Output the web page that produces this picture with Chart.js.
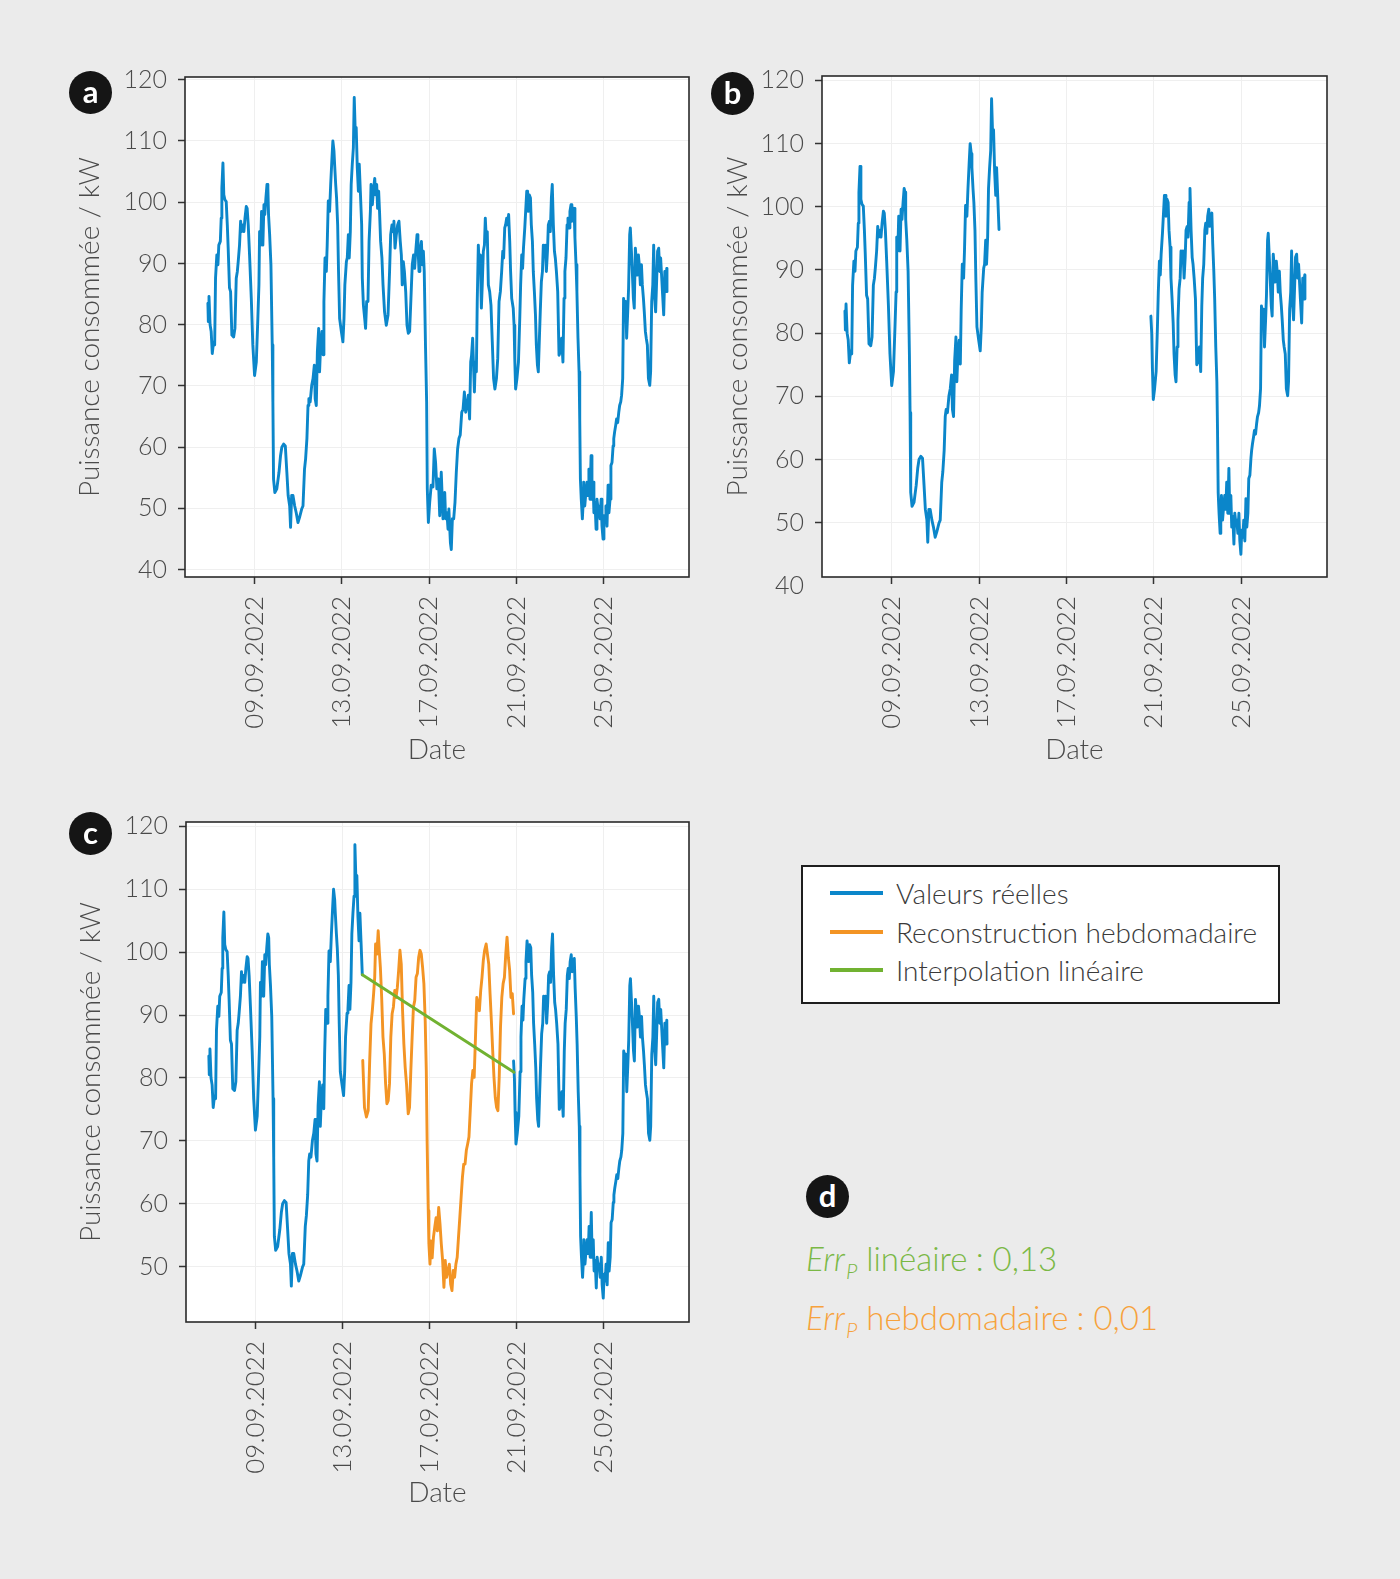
<!DOCTYPE html>
<html lang="fr">
<head>
<meta charset="utf-8">
<title>Puissance consommée</title>
<script src="https://cdn.jsdelivr.net/npm/chart.js@4.4.1/dist/chart.umd.min.js"></script>
<style>
  html, body { margin: 0; padding: 0; }
  body { width: 1400px; height: 1579px; background: #ebebeb; position: relative; overflow: hidden;
         font-family: Lato, "Open Sans", "DejaVu Sans", sans-serif; }
  canvas { position: absolute; }
  .badge { position: absolute; width: 43px; height: 43px; border-radius: 50%; background: #151515; color: #fff;
           font: 700 31px Lato, "Open Sans", sans-serif; display: flex; align-items: center; justify-content: center;
           line-height: 1; padding-bottom: 3px; box-sizing: border-box; }
  #legend { position: absolute; left: 801px; top: 865px; width: 475px; height: 135px; background: #fff;
            border: 2px solid #1e1e1e; }
  .item { position: absolute; left: 0; height: 36px; width: 100%; }
  .sw { position: absolute; left: 27px; top: 16px; width: 53px; height: 4px; }
  .lbl { position: absolute; left: 93px; top: 0; font: 300 28px Lato, "Open Sans", sans-serif; line-height: 36px;
         color: #3a3a3a; white-space: nowrap; }
  .err { position: absolute; left: 806px; font: 300 33px Lato, "Open Sans", sans-serif; line-height: 40px; white-space: nowrap; }
  .err i { font-style: italic; }
  .err sub { font-size: 0.64em; vertical-align: -0.38em; line-height: 0; font-style: italic; margin-left: 1px; }
</style>
</head>
<body>
<canvas id="chartA" width="700" height="780" style="left:0px;top:0px"></canvas>
<canvas id="chartB" width="700" height="780" style="left:637px;top:0px"></canvas>
<canvas id="chartC" width="700" height="780" style="left:0px;top:740px"></canvas>

<div class="badge" style="left:69px;top:71px">a</div>
<div class="badge" style="left:711px;top:72px">b</div>
<div class="badge" style="left:69px;top:812px">c</div>
<div class="badge" style="left:806px;top:1175px">d</div>

<div id="legend"></div>
<div id="errors"></div>

<script>
// ---------- DATA ----------
// x values are days of September 2022 (fractional), y values in kW
const tickDays   = [9, 13, 17, 21, 25];
const tickLabels = ['09.09.2022', '13.09.2022', '17.09.2022', '21.09.2022', '25.09.2022'];

const realDays = [
  6.86, 6.88, 6.91, 6.96, 7.01, 7.06, 7.12, 7.17, 7.21, 7.27,
  7.32, 7.36, 7.43, 7.47, 7.50, 7.55, 7.59, 7.64, 7.70, 7.75,
  7.79, 7.85, 7.90, 7.96, 8.04, 8.10, 8.16, 8.21, 8.25, 8.31,
  8.36, 8.40, 8.47, 8.51, 8.56, 8.62, 8.66, 8.71, 8.77, 8.85,
  8.92, 9.00, 9.08, 9.15, 9.20, 9.23, 9.28, 9.32, 9.38, 9.43,
  9.47, 9.52, 9.57, 9.61, 9.64, 9.69, 9.75, 9.81, 9.84, 9.87,
  9.93, 10.02, 10.12, 10.19, 10.25, 10.33, 10.41, 10.48, 10.54, 10.61,
  10.65, 10.70, 10.76, 10.84, 10.91, 10.99, 11.06, 11.16, 11.22, 11.29,
  11.34, 11.40, 11.45, 11.49, 11.55, 11.62, 11.68, 11.74, 11.78, 11.83,
  11.88, 11.94, 11.98, 12.03, 12.09, 12.14, 12.18, 12.23, 12.29, 12.33,
  12.38, 12.44, 12.49, 12.55, 12.59, 12.64, 12.67, 12.72, 12.76, 12.81,
  12.85, 12.90, 12.98, 13.05, 13.10, 13.14, 13.21, 13.25, 13.30, 13.34,
  13.39, 13.43, 13.48, 13.53, 13.57, 13.62, 13.66, 13.71, 13.76, 13.80,
  13.85, 13.91, 13.94, 13.99, 14.05, 14.09, 14.14, 14.20, 14.25, 14.31,
  14.34, 14.40, 14.46, 14.51, 14.55, 14.60, 14.64, 14.69, 14.73, 14.78,
  14.84, 14.89, 14.96, 15.04, 15.12, 15.19, 15.24, 15.30, 15.35, 15.39,
  15.44, 15.50, 15.56, 15.62, 15.68, 15.73, 15.77, 15.82, 15.87, 15.93,
  15.99, 16.05, 16.11, 16.17, 16.23, 16.29, 16.34, 16.39, 16.45, 16.49,
  16.54, 16.58, 16.65, 16.69, 16.74, 16.78, 16.84, 16.89, 16.92, 16.97,
  17.03, 17.10, 17.18, 17.24, 17.30, 17.36, 17.43, 17.49, 17.56, 17.64,
  17.72, 17.76, 17.82, 17.87, 17.91, 17.98, 18.02, 18.07, 18.13, 18.19,
  18.25, 18.31, 18.37, 18.43, 18.50, 18.56, 18.62, 18.68, 18.74, 18.80,
  18.86, 18.91, 18.95, 19.00, 19.05, 19.08, 19.12, 19.17, 19.21, 19.26,
  19.31, 19.35, 19.40, 19.44, 19.49, 19.54, 19.58, 19.63, 19.67, 19.72,
  19.78, 19.84, 19.90, 19.96, 20.02, 20.09, 20.15, 20.21, 20.27, 20.33,
  20.38, 20.42, 20.47, 20.51, 20.56, 20.61, 20.65, 20.70, 20.74, 20.79,
  20.86, 20.90, 20.93, 20.97, 21.03, 21.10, 21.16, 21.20, 21.25, 21.29,
  21.33, 21.39, 21.43, 21.48, 21.52, 21.55, 21.60, 21.65, 21.69, 21.74,
  21.78, 21.83, 21.88, 21.92, 21.97, 22.01, 22.06, 22.10, 22.15, 22.20,
  22.24, 22.29, 22.33, 22.38, 22.43, 22.47, 22.52, 22.56, 22.61, 22.65,
  22.70, 22.75, 22.79, 22.84, 22.90, 22.96, 23.02, 23.08, 23.14, 23.19,
  23.23, 23.28, 23.33, 23.37, 23.42, 23.46, 23.51, 23.55, 23.60, 23.65,
  23.69, 23.74, 23.78, 23.83, 23.88, 23.91, 23.94, 23.98, 24.03, 24.06,
  24.09, 24.14, 24.18, 24.24, 24.29, 24.33, 24.38, 24.43, 24.47, 24.52,
  24.56, 24.61, 24.66, 24.70, 24.75, 24.79, 24.84, 24.89, 24.93, 24.98,
  25.02, 25.07, 25.11, 25.16, 25.21, 25.25, 25.30, 25.34, 25.39, 25.44,
  25.47, 25.51, 25.56, 25.60, 25.65, 25.70, 25.74, 25.79, 25.83, 25.88,
  25.92, 25.97, 26.02, 26.06, 26.11, 26.15, 26.20, 26.23, 26.28, 26.32,
  26.37, 26.41, 26.46, 26.51, 26.55, 26.60, 26.64, 26.69, 26.74, 26.78,
  26.83, 26.87, 26.92, 26.96, 27.01, 27.06, 27.12, 27.16, 27.21, 27.26,
  27.30, 27.35, 27.39, 27.44, 27.48, 27.53, 27.58, 27.62, 27.67, 27.71,
  27.76, 27.81, 27.85, 27.90, 27.91
];
const realKw = [
  83.5, 80.5, 84.6, 80.0, 78.9, 75.3, 77.2, 76.7, 87.6, 91.4,
  89.8, 93.0, 93.6, 97.4, 102.3, 106.4, 101.2, 100.4, 100.1, 96.3,
  92.5, 86.0, 85.4, 78.3, 78.0, 79.4, 87.6, 88.7, 90.3, 93.0,
  96.9, 95.2, 96.3, 95.2, 97.4, 99.3, 99.0, 96.3, 91.4, 84.3,
  76.7, 71.7, 73.9, 81.0, 86.5, 95.2, 93.0, 98.5, 93.0, 99.6,
  98.0, 100.7, 102.9, 102.3, 98.0, 94.8, 89.8, 76.7, 67.4, 54.8,
  52.6, 53.2, 55.9, 58.6, 60.0, 60.5, 60.2, 55.9, 52.1, 50.4,
  46.9, 52.1, 52.1, 50.4, 49.3, 47.7, 48.5, 49.9, 50.4, 56.4,
  58.1, 61.4, 66.8, 67.9, 67.4, 70.1, 71.2, 73.4, 67.9, 66.8,
  75.6, 79.4, 72.3, 76.7, 78.9, 75.1, 83.8, 90.9, 88.7, 93.0,
  100.2, 98.5, 102.9, 107.3, 110.0, 108.4, 106.2, 102.9, 100.7, 96.3,
  88.7, 81.0, 78.9, 77.2, 81.0, 86.5, 90.3, 90.9, 94.7, 90.9,
  95.2, 102.9, 106.2, 108.9, 117.1, 111.1, 112.2, 105.6, 101.8, 106.2,
  101.8, 96.4, 87.6, 83.2, 81.0, 79.4, 83.8, 83.8, 93.6, 98.5,
  102.9, 99.6, 102.3, 103.9, 101.2, 102.9, 99.0, 101.8, 98.5, 93.6,
  90.9, 86.5, 82.1, 79.9, 81.6, 88.7, 94.7, 96.3, 95.2, 96.9,
  92.5, 94.7, 96.3, 96.9, 93.6, 91.4, 86.5, 90.3, 88.7, 85.4,
  79.9, 78.6, 78.9, 84.3, 89.8, 91.4, 89.2, 92.0, 94.7, 93.0,
  88.7, 92.0, 93.6, 89.8, 92.0, 88.7, 76.1, 67.4, 53.2, 47.7,
  51.0, 53.8, 53.5, 59.7, 57.5, 53.2, 54.8, 48.8, 55.9, 48.3,
  52.6, 48.3, 49.3, 46.6, 49.9, 44.4, 43.3, 48.3, 48.3, 51.0,
  55.9, 59.7, 61.4, 62.0, 65.7, 66.2, 69.0, 65.7, 66.8, 68.5,
  64.6, 73.9, 75.0, 77.8, 72.3, 69.0, 73.9, 72.3, 83.8, 93.0,
  88.7, 91.4, 82.7, 86.5, 92.0, 93.0, 97.4, 93.6, 95.2, 86.5,
  85.4, 83.2, 77.2, 71.2, 69.5, 71.2, 74.5, 83.8, 85.4, 88.7,
  92.0, 90.9, 95.8, 96.3, 97.4, 96.3, 98.0, 93.6, 88.7, 84.3,
  82.7, 79.9, 74.5, 69.5, 71.2, 73.9, 81.0, 86.5, 91.4, 89.2,
  92.5, 95.8, 98.5, 101.8, 101.8, 98.5, 101.2, 100.7, 96.3, 93.6,
  88.7, 85.4, 81.6, 76.7, 73.4, 72.3, 77.8, 82.1, 87.0, 88.7,
  93.0, 92.0, 93.0, 88.7, 92.0, 96.3, 96.9, 95.2, 100.7, 102.9,
  96.3, 92.0, 90.9, 88.7, 85.4, 75.0, 75.6, 77.8, 73.9, 84.3,
  88.7, 90.9, 96.3, 97.4, 95.8, 98.5, 99.6, 96.9, 98.5, 99.0,
  94.2, 89.8, 85.4, 77.8, 72.3, 64.6, 54.8, 51.5, 48.3, 50.4,
  54.3, 50.4, 52.1, 54.3, 52.1, 56.4, 51.5, 58.6, 51.5, 54.3,
  49.3, 51.0, 46.6, 51.5, 49.9, 50.4, 48.3, 51.5, 47.1, 45.0,
  48.8, 47.7, 50.4, 47.1, 53.8, 49.3, 51.5, 57.0, 57.5, 60.2,
  61.4, 62.5, 63.6, 64.6, 64.0, 65.7, 66.8, 67.4, 68.5, 71.2,
  84.3, 82.7, 83.8, 77.8, 82.1, 86.0, 94.7, 95.8, 92.0, 88.7,
  84.3, 82.7, 92.5, 90.3, 88.1, 91.4, 89.8, 86.5, 89.8, 86.5,
  84.3, 82.1, 78.9, 77.8, 76.7, 71.2, 70.1, 72.3, 83.8, 86.5,
  93.0, 84.3, 82.1, 87.6, 92.0, 92.5, 88.7, 90.9, 87.6, 84.9,
  81.6, 88.7, 85.4, 89.2, 85.4
];

// missing period shown in panels b and c
const gapDays = [13.92, 20.85];

// weekly reconstruction (orange, panel c)
const weeklyDays = [
  13.93, 14.01, 14.10, 14.18, 14.25, 14.31, 14.37, 14.43, 14.48, 14.52,
  14.58, 14.64, 14.69, 14.74, 14.80, 14.86, 14.92, 14.98, 15.04, 15.10,
  15.16, 15.22, 15.28, 15.34, 15.40, 15.46, 15.52, 15.58, 15.64, 15.70,
  15.76, 15.82, 15.88, 15.94, 16.02, 16.08, 16.14, 16.20, 16.26, 16.32,
  16.38, 16.44, 16.50, 16.56, 16.62, 16.68, 16.74, 16.80, 16.85, 16.89,
  16.94, 16.97, 17.02, 17.06, 17.12, 17.18, 17.24, 17.30, 17.36, 17.42,
  17.48, 17.54, 17.60, 17.66, 17.72, 17.78, 17.85, 17.91, 17.97, 18.03,
  18.09, 18.15, 18.21, 18.27, 18.33, 18.39, 18.45, 18.51, 18.57, 18.63,
  18.69, 18.75, 18.81, 18.87, 18.93, 18.99, 19.05, 19.11, 19.17, 19.23,
  19.29, 19.35, 19.41, 19.47, 19.53, 19.60, 19.66, 19.72, 19.78, 19.84,
  19.90, 19.96, 20.02, 20.08, 20.14, 20.20, 20.26, 20.32, 20.38, 20.44,
  20.50, 20.56, 20.62, 20.68, 20.74, 20.80, 20.86
];
const weeklyKw = [
  82.8, 75.3, 73.8, 74.8, 82.8, 88.6, 90.7, 93.4, 96.0, 101.3,
  99.7, 103.4, 100.3, 97.6, 92.8, 86.5, 83.8, 79.1, 75.9, 76.4,
  79.1, 86.5, 90.2, 91.3, 93.9, 92.8, 94.4, 97.1, 100.3, 98.1,
  90.7, 85.4, 81.7, 79.1, 74.3, 75.3, 81.2, 86.5, 91.3, 92.3,
  96.0, 96.6, 99.2, 100.3, 99.7, 97.6, 95.0, 89.1, 81.2, 69.5,
  58.9, 53.6, 50.4, 54.1, 51.4, 54.7, 56.3, 57.8, 55.7, 59.4,
  56.8, 53.6, 51.0, 46.7, 51.0, 48.3, 49.4, 50.4, 47.2, 46.2,
  49.4, 48.3, 50.4, 51.5, 54.7, 57.8, 61.0, 64.2, 66.3, 66.3,
  68.5, 69.5, 70.6, 74.8, 79.1, 81.2, 80.1, 86.5, 92.8, 91.8,
  90.7, 93.9, 96.0, 98.7, 100.3, 101.3, 99.7, 98.1, 93.4, 89.1,
  84.4, 80.1, 76.9, 75.3, 74.8, 80.1, 88.1, 92.8, 95.0, 96.0,
  99.7, 102.4, 99.2, 97.1, 92.8, 93.4, 90.2
];

// linear interpolation across the gap (green, panel c)
const linearDays = [13.91, 20.88];
const linearKw   = [96.4, 80.9];

const seriesNames  = ['Valeurs réelles', 'Reconstruction hebdomadaire', 'Interpolation linéaire'];
const seriesColors = ['#0b86ca', '#f39424', '#71b231'];

const yTicksAB = [40, 50, 60, 70, 80, 90, 100, 110, 120];
const yTicksC  = [50, 60, 70, 80, 90, 100, 110, 120];

// ---------- STYLE ----------
const FONT = 'Lato, "Open Sans", "DejaVu Sans", sans-serif';
const TEXT = '#4a4a4a';
const GRID = '#efefef';
const X_MIN = 5.81, X_MAX = 28.92;

Chart.defaults.font.family = FONT;
Chart.defaults.font.weight = '300';
Chart.defaults.color = TEXT;

const frame = {
  id: 'frame',
  beforeDraw(chart) {
    const { ctx, chartArea: a } = chart;
    ctx.save();
    ctx.fillStyle = '#ffffff';
    ctx.fillRect(a.left, a.top, a.right - a.left, a.bottom - a.top);
    ctx.restore();
  },
  afterDatasetsDraw(chart) {
    const { ctx, chartArea: a } = chart;
    ctx.save();
    ctx.strokeStyle = '#2a2a2a';
    ctx.lineWidth = 1.6;
    ctx.strokeRect(a.left, a.top, a.right - a.left, a.bottom - a.top);
    ctx.restore();
  }
};

function pts(days, vals, gap) {
  return days.map((d, i) => ({ x: d, y: (gap && d > gap[0] && d < gap[1]) ? null : vals[i] }));
}

function lineDs(label, data, color) {
  return { label, data, borderColor: color, backgroundColor: color, borderWidth: 2.9, pointRadius: 0,
           tension: 0, spanGaps: false, borderJoinStyle: 'round', borderCapStyle: 'round' };
}

function makeChart(id, datasets, L) {
  const yMin = L.yMin;
  return new Chart(document.getElementById(id), {
    type: 'line',
    data: { datasets },
    plugins: [frame],
    options: {
      responsive: false, animation: false, events: [],
      layout: { padding: { left: 0, top: L.top, right: L.right, bottom: 0 } },
      plugins: { legend: { display: false }, tooltip: { enabled: false } },
      scales: {
        x: {
          type: 'linear', min: X_MIN, max: X_MAX,
          afterBuildTicks: s => { s.ticks = tickDays.map(v => ({ value: v })); },
          afterFit: s => { s.height = L.xh; },
          ticks: { autoSkip: false, minRotation: 90, maxRotation: 90, padding: 12, color: TEXT,
                   font: { size: 26, weight: '300' },
                   callback: v => tickLabels[tickDays.indexOf(v)] },
          grid: { color: GRID, lineWidth: 1, tickLength: 7, tickColor: '#333', tickWidth: 1.5 },
          border: { display: false },
          title: { display: true, text: 'Date', color: TEXT, font: { size: 28, weight: '300' },
                   padding: { top: 0, bottom: L.xtp } }
        },
        y: {
          type: 'linear', min: yMin, max: L.yMax,
          afterBuildTicks: s => { s.ticks = L.yTicks.map(v => ({ value: v })); },
          afterFit: s => { s.width = L.yw; },
          ticks: { padding: 11, color: TEXT, font: { size: 25, weight: '300' } },
          grid: {
            color: c => (c.tick && c.tick.value < yMin) ? 'rgba(0,0,0,0)' : GRID,
            tickColor: c => (c.tick && c.tick.value < yMin) ? 'rgba(0,0,0,0)' : '#333',
            lineWidth: 1, tickLength: 7, tickWidth: 1.5
          },
          border: { display: false },
          title: { display: true, text: 'Puissance consommée / kW', color: TEXT,
                   font: { size: 28, weight: '300' }, padding: { top: L.ytp, bottom: 0 } }
        }
      }
    }
  });
}

// panel a: complete real values
makeChart('chartA', [lineDs(seriesNames[0], pts(realDays, realKw), seriesColors[0])],
  { top: 77, right: 11, yw: 185, xh: 203, yMin: 38.8, yMax: 120.45, yTicks: yTicksAB, ytp: 73.2, xtp: 13.2 });

// panel b: real values with the missing period
makeChart('chartB', [lineDs(seriesNames[0], pts(realDays, realKw, gapDays), seriesColors[0])],
  { top: 76, right: 10, yw: 185, xh: 203, yMin: 41.4, yMax: 120.7, yTicks: yTicksAB, ytp: 84.2, xtp: 13.2 });

// panel c: real values + reconstructions
makeChart('chartC', [
    lineDs(seriesNames[2], pts(linearDays, linearKw), seriesColors[2]),
    lineDs(seriesNames[1], pts(weeklyDays, weeklyKw), seriesColors[1]),
    lineDs(seriesNames[0], pts(realDays, realKw, gapDays), seriesColors[0])
  ],
  { top: 82, right: 11, yw: 186, xh: 198, yMin: 41.2, yMax: 120.7, yTicks: yTicksC, ytp: 73.8, xtp: 10.2 });

// ---------- legend ----------
const legend = document.getElementById('legend');
const rowTops = [8, 47, 85];
seriesNames.forEach((name, i) => {
  const it = document.createElement('div');
  it.className = 'item';
  it.style.top = rowTops[i] + 'px';
  it.innerHTML = '<span class="sw" style="background:' + seriesColors[i] + '"></span><span class="lbl"></span>';
  it.querySelector('.lbl').textContent = name;
  legend.appendChild(it);
});

// ---------- panel d: errors ----------
const errLabels = ['linéaire', 'hebdomadaire'];
const errValues = ['0,13', '0,01'];
const errColors = ['#7ab845', '#f7a23c'];
const errTops   = [1238, 1297];
const errBox = document.getElementById('errors');
errLabels.forEach((lab, i) => {
  const d = document.createElement('div');
  d.className = 'err';
  d.style.top = errTops[i] + 'px';
  d.style.color = errColors[i];
  d.innerHTML = '<i>Err<sub>P</sub></i> ' + lab + '\u202F: ' + errValues[i];
  errBox.appendChild(d);
});
</script>
</body>
</html>
